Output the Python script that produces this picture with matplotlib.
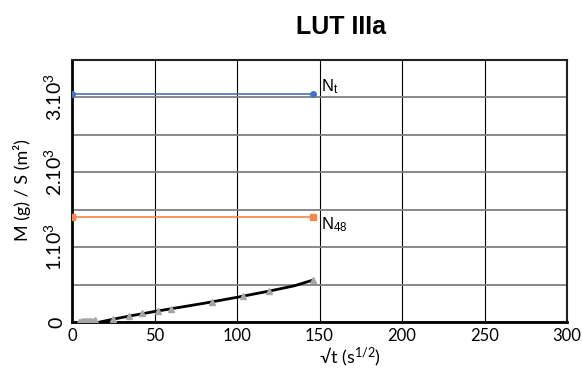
import numpy as np
import matplotlib

matplotlib.use("Agg")
import matplotlib.pyplot as plt

# measured points (sqrt t, M/S)
sqrt_t = [4, 5, 6, 7, 8, 9, 10, 11, 12, 14, 24.6, 34.5, 42.4, 51.9, 60, 84.6, 103.4, 119.4, 145.9]
mass = [2, 5, 8, 10, 12, 14, 16, 18, 20, 24, 44, 84, 116, 147, 174, 271, 347, 414, 561]

# fitted curve
fit_x = [17, 25, 35, 50, 65, 80, 100, 120, 135, 146]
fit_y = [0, 38, 80, 140, 195, 250, 330, 415, 485, 560]

# reference levels
nt_x = [0, 146]
nt_y = [3040, 3040]
n48_x = [0, 146]
n48_y = [1400, 1400]

xticks = [0, 50, 100, 150, 200, 250, 300]
yticks = [0, 1000, 2000, 3000]
ytick_labels = ["0", "1.10$^3$", "2.10$^3$", "3.10$^3$"]

plt.rcParams["font.family"] = ["Lato", "DejaVu Sans"]
plt.rcParams["mathtext.default"] = "regular"

fig = plt.figure(figsize=(5.82, 3.74), dpi=100)
ax = fig.add_axes([72 / 582, 1 - 322 / 374, 495 / 582, 262 / 374])

ax.plot(nt_x, nt_y, color="#4472C4", lw=1.2, marker="o", ms=4, zorder=3)
ax.plot(n48_x, n48_y, color="#F4874B", lw=1.2, marker="s", ms=4, zorder=3)
ax.plot(fit_x, fit_y, color="black", lw=2, zorder=3)
ax.plot(sqrt_t, mass, ls="none", marker="^", ms=4, color="#A6A6A6", zorder=4)

ax.text(151, nt_y[0] - 20, "N$_t$", fontsize=12, va="bottom", ha="left",
        family="Liberation Sans")
ax.text(151, n48_y[0] + 20, "N$_{48}$", fontsize=12, va="top", ha="left",
        family="Liberation Sans")

ax.set_xlim(0, 300)
ax.set_ylim(0, 3500)
ax.set_xticks(xticks)
ax.set_yticks(yticks)
ax.set_yticks(np.arange(500, 3500, 1000), minor=True)
ax.set_yticklabels(ytick_labels, rotation=90, va="center")
ax.tick_params(axis="both", which="both", length=0, pad=4)
ax.tick_params(axis="x", labelsize=12)
ax.tick_params(axis="y", labelsize=14, pad=5)

ax.grid(axis="x", color="black", lw=0.8)
ax.grid(axis="y", which="both", color="#808080", lw=1.3)
ax.set_axisbelow(True)

for side in ("left", "bottom"):
    ax.spines[side].set_linewidth(2)
    ax.spines[side].set_color("black")
for side in ("top", "right"):
    ax.spines[side].set_linewidth(1.5)
    ax.spines[side].set_color("#222222")

fig.text(341 / 582, 1 - 27 / 374, "LUT IIIa", fontsize=18, fontweight="bold",
         family="Liberation Sans", ha="center", va="center")
fig.text(350 / 582, 1 - 357 / 374, "√t (s$^{1/2}$)", fontsize=13,
         ha="center", va="center")
fig.text(22 / 582, 1 - 190 / 374, "M (g) / S (m²)", fontsize=13, rotation=90,
         ha="center", va="center")

fig.savefig("out.png", dpi=100)
